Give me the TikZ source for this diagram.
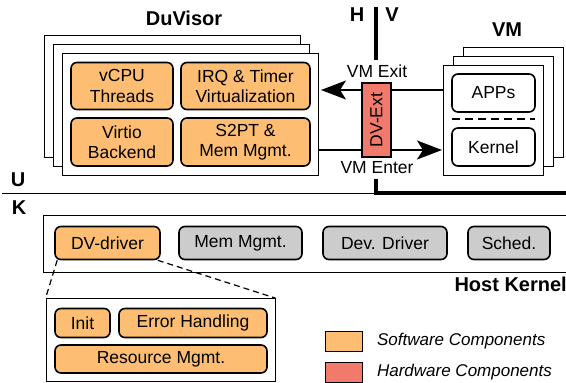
\documentclass[tikz,border=0pt]{standalone}
\usepackage{fontspec}
\setmainfont{Liberation Sans}
\usepackage{xcolor}
\usetikzlibrary{arrows.meta, positioning, calc}

\definecolor{swcolor}{RGB}{253,190,115}
\definecolor{hwcolor}{RGB}{242,122,108}
\definecolor{oscolor}{RGB}{204,204,204}

\begin{document}
\begin{tikzpicture}[
                x=1pt, y=-1pt,
                every node/.style={font=\fontsize{17.5}{20.5}\selectfont, align=center, inner sep=0pt},
                comp/.style={rectangle, rounded corners=6pt, draw, line width=1.6pt, fill=swcolor},
                oscomp/.style={comp, fill=oscolor},
                vmcomp/.style={comp, fill=white},
                frame/.style={rectangle, draw, line width=0.8pt, fill=white},
                title/.style={font=\fontsize{20}{22}\selectfont\bfseries},
                legend/.style={rectangle, draw, line width=0.8pt, minimum width=37pt, minimum height=20pt},
                flow/.style={line width=1.6pt, -{Stealth[length=25pt, width=19pt, inset=6pt]}}
            ]
                \useasboundingbox (0,0) rectangle (566,383);
                \clip (0,0) rectangle (566,383);

                % DuVisor stack
                \foreach \d in {18,9,0}
                    \node[frame, minimum width=256pt, minimum height=122pt] at ($(190,114)-(\d,\d)$) {};
                \node[title] (duvisor) at (184,18) {DuVisor};
                \node[comp, minimum width=102pt, minimum height=47pt] (vcpu) at (122,86) {vCPU\\Threads};
                \node[comp, minimum width=129pt, minimum height=47pt] (irq) at (245.5,86) {IRQ \& Timer\\Virtualization};
                \node[comp, minimum width=102pt, minimum height=48pt] (virtio) at (122,142) {Virtio\\Backend};
                \node[comp, minimum width=129pt, minimum height=48pt] (s2pt) at (245.5,142) {S2PT \&\\Mem Mgmt.};
                \coordinate (duright) at (318,120);

                % VM stack
                \foreach \d in {20,10,0}
                    \node[frame, minimum width=100pt, minimum height=110pt] at ($(493,120)+(\d,-0.9*\d)$) {};
                \node[title] (vm) at (507,30) {VM};
                \node[vmcomp, minimum width=83pt, minimum height=38pt] (apps) at (493.5,93) {APPs};
                \node[vmcomp, minimum width=83pt, minimum height=38pt] (kernel) at (493.5,147) {Kernel};
                \draw[dashed, line width=1.6pt, dash pattern=on 8pt off 5pt] (452,119) -- (535,119);
                \coordinate (vmleft) at (443,120);

                % H / V split
                \node[title] (h) at (357,15) {H};
                \node[title] (v) at (392,15) {V};
                \coordinate (hvtop) at (376,7);
                \coordinate (hvbot) at (376,60);
                \draw[line width=3.5pt] (hvtop) -- (hvbot);

                % Exit / Enter
                \draw[flow] (vmleft |- 0,90) -- ($(duright |- 0,90)+(3,0)$);
                \draw[flow] (duright |- 0,150) -- ($(vmleft |- 0,150)+(-1,0)$);
                \node[rectangle, draw, line width=1.6pt, fill=hwcolor, minimum width=29pt, minimum height=74pt] (dvext) at (376.5,120) {};
                \node[rotate=90] at (dvext) {DV-Ext};
                \node (vmexit) at (377,71) {VM Exit};
                \node (vmenter) at (377,168) {VM Enter};

                % U / K split
                \node[title] (u) at (18,180) {U};
                \node[title] (k) at (19,208) {K};
                \coordinate (ukleft) at (2,193);
                \coordinate (ukmid) at (376,193);
                \draw[line width=0.8pt] (ukleft) -- (ukmid);
                \draw[line width=3.5pt] (376,179) -- (ukmid) -- (570,193);

                % Host kernel
                \draw[line width=0.8pt] (580,215) -- (43,215) -- (43,272) -- (580,272);
                \node[comp, minimum width=105pt, minimum height=33pt] (dvdrv) at (107.5,243) {DV-driver};
                \node[oscomp, minimum width=123pt, minimum height=33pt] (mem) at (240.5,243) {Mem Mgmt.};
                \node[oscomp, minimum width=124pt, minimum height=33pt] (dev) at (385,243) {Dev. Driver};
                \node[oscomp, minimum width=82pt, minimum height=33pt] (sched) at (509,243) {Sched.};
                \node[title, anchor=east] (host) at (567,284) {Host Kernel};

                % DV-driver detail
                \node[frame, minimum width=229pt, minimum height=83pt] (detail) at (160.5,340) {};
                \node[comp, minimum width=55pt, minimum height=29pt] (init) at (82.5,323) {Init};
                \node[comp, minimum width=148pt, minimum height=29pt] (err) at (193,323) {Error Handling};
                \node[comp, minimum width=212pt, minimum height=28pt] (res) at (161,359) {Resource Mgmt.};
                \draw[dashed, line width=1.2pt, dash pattern=on 6pt off 4pt] (dvdrv.south west) ++(3,0) -- (detail.north west);
                \draw[dashed, line width=1.2pt, dash pattern=on 6pt off 4pt] (dvdrv.south east) ++(-3,0) -- (detail.north east);

                % Legend
                \node[legend, fill=swcolor] (swkey) at (344,341) {};
                \node[legend, fill=hwcolor] (hwkey) at (344,372.5) {};
                \node[anchor=west, font=\fontsize{17}{20}\selectfont\itshape, right=14pt of swkey] {Software Components};
                \node[anchor=west, font=\fontsize{17}{20}\selectfont\itshape, right=14pt of hwkey] {Hardware Components};
            \end{tikzpicture}
\end{document}
